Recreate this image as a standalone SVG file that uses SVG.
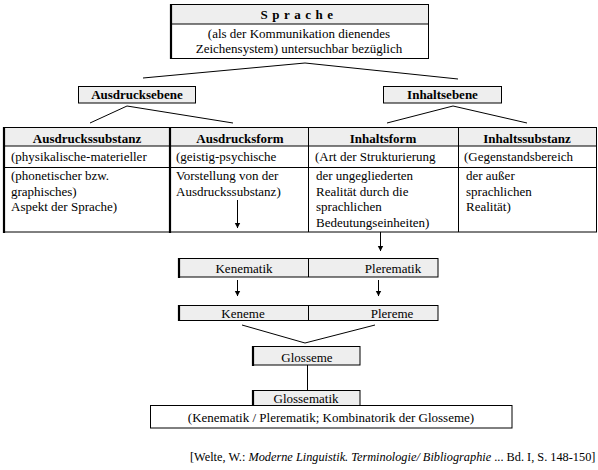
<svg xmlns="http://www.w3.org/2000/svg" width="598" height="470" viewBox="0 0 598 470">
<style>
text{font-family:'Liberation Serif','Times New Roman','DejaVu Serif',serif;font-size:13px;fill:#000}
.b{font-weight:bold}
.c{text-anchor:middle}
.sm{font-size:12.3px}
.it{font-style:italic}
.box{fill:#fff;stroke:#000;stroke-width:1}
.hd{fill:#eeeeee;stroke:#000;stroke-width:1}
.thick{stroke:#000;stroke-width:2.2;fill:none}
.ln{stroke:#000;stroke-width:1;fill:none}
</style>
<defs>
<marker id="ah" viewBox="0 0 8 10" refX="7.5" refY="5" markerWidth="6" markerHeight="7" orient="auto" markerUnits="userSpaceOnUse">
<path d="M0,1 L8,5 L0,9 Z" fill="#000"/>
</marker>
</defs>
<rect width="598" height="470" fill="#fff"/>
<g font-family="Liberation Serif, Times New Roman, serif">

<g id="sprache">
<rect class="box" x="170.5" y="4.5" width="258" height="54"/>
<rect class="hd" x="170.5" y="4.5" width="258" height="19.5"/>
<line class="thick" x1="171" y1="4" x2="171" y2="59"/>
<text class="b c" x="299" y="19" letter-spacing="4.5">Sprache</text>
<text class="c" x="299" y="38">(als der Kommunikation dienendes</text>
<text class="c" x="299" y="53">Zeichensystem) untersuchbar bezüglich</text>
</g>

<g id="ausdrucksebene">
<rect class="hd" x="78.5" y="86.5" width="117" height="16.5"/>
<text class="b c" x="137" y="99">Ausdrucksebene</text>
</g>

<g id="inhaltsebene">
<rect class="hd" x="383.5" y="86.5" width="118" height="16.5"/>
<text class="b c" x="442.5" y="99">Inhaltsebene</text>
</g>

<g id="tabelle">
<rect class="box" x="3.5" y="127.5" width="593" height="104.5"/>
<rect class="hd" x="3.5" y="127.5" width="593" height="18.5"/>
<line class="ln" x1="3.5" y1="167.5" x2="596.5" y2="167.5"/>
<line class="thick" x1="4" y1="127" x2="4" y2="233"/>
<line class="thick" x1="170" y1="127" x2="170" y2="233"/>
<line class="ln" x1="308.5" y1="127.5" x2="308.5" y2="232"/>
<line class="ln" x1="458.5" y1="127.5" x2="458.5" y2="232"/>
<g id="ausdruckssubstanz">
<text class="b c" x="87" y="143">Ausdruckssubstanz</text>
<text x="11" y="161">(physikalische-materieller</text>
<text x="11" y="180">(phonetischer bzw.</text>
<text x="11" y="195.5">graphisches)</text>
<text x="11" y="211">Aspekt der Sprache)</text>
</g>
<g id="ausdrucksform">
<text class="b c" x="240" y="143">Ausdrucksform</text>
<text x="176" y="161">(geistig-psychische</text>
<text x="176" y="180">Vorstellung von der</text>
<text x="176" y="195.5">Ausdruckssubstanz)</text>
</g>
<g id="inhaltsform">
<text class="b c" x="383" y="143">Inhaltsform</text>
<text x="315" y="161">(Art der Strukturierung</text>
<text x="316" y="180">der ungegliederten</text>
<text x="316" y="195.5">Realität  durch die</text>
<text x="316" y="211">sprachlichen</text>
<text x="316" y="226.5">Bedeutungseinheiten)</text>
</g>
<g id="inhaltssubstanz">
<text class="b c" x="527" y="143">Inhaltssubstanz</text>
<text x="464" y="161">(Gegenstandsbereich</text>
<text x="466" y="180">der außer</text>
<text x="466" y="195.5">sprachlichen</text>
<text x="466" y="211">Realität)</text>
</g>
</g>

<g id="kenematik-plerematik">
<rect class="hd" x="178.5" y="258.5" width="259.5" height="18.5"/>
<line class="ln" x1="308.5" y1="258.5" x2="308.5" y2="277"/>
<line class="thick" x1="179" y1="258" x2="179" y2="278"/>
<text class="c" x="244" y="273">Kenematik</text>
<text class="c" x="393" y="273">Plerematik</text>
</g>

<g id="keneme-plereme">
<rect class="hd" x="178.5" y="305.5" width="259.5" height="15"/>
<line class="ln" x1="308.5" y1="305.5" x2="308.5" y2="320.5"/>
<line class="thick" x1="179" y1="305" x2="179" y2="321"/>
<text class="c" x="243" y="318">Keneme</text>
<text class="c" x="392" y="318">Plereme</text>
</g>

<g id="glosseme">
<rect class="hd" x="252.5" y="346.5" width="107.5" height="18.5"/>
<line class="thick" x1="253" y1="346" x2="253" y2="366"/>
<text class="c" x="307" y="361.5">Glosseme</text>
</g>

<g id="glossematik">
<rect class="hd" x="252.5" y="390.5" width="107.5" height="15"/>
<line class="thick" x1="253" y1="390" x2="253" y2="406"/>
<text class="c" x="306" y="402.5">Glossematik</text>
<rect class="box" x="150.5" y="405.5" width="361.5" height="22.5"/>
<text class="c" x="331" y="422">(Kenematik / Plerematik; Kombinatorik der Glosseme)</text>
</g>

<g id="connectors">
<polyline class="ln" points="143,78 305,63 458,79"/>
<polyline class="ln" points="90,123 127,106 233,123"/>
<polyline class="ln" points="387,123 453,106 527,123"/>
<line class="ln" x1="237.5" y1="200" x2="237.5" y2="228" marker-end="url(#ah)"/>
<line class="ln" x1="380.5" y1="232" x2="380.5" y2="251" marker-end="url(#ah)"/>
<line class="ln" x1="237.5" y1="280" x2="237.5" y2="296" marker-end="url(#ah)"/>
<line class="ln" x1="378.5" y1="280" x2="378.5" y2="296" marker-end="url(#ah)"/>
<polyline class="ln" points="242,325 305,343 375,325"/>
<line class="ln" x1="307.5" y1="365" x2="307.5" y2="390"/>
</g>

<g id="quelle">
<text class="sm" x="190" y="461">[Welte, W.: <tspan class="it">Moderne Linguistik. Terminologie/ Bibliographie</tspan> ... Bd. I, S. 148-150]</text>
</g>
</g>
</svg>
